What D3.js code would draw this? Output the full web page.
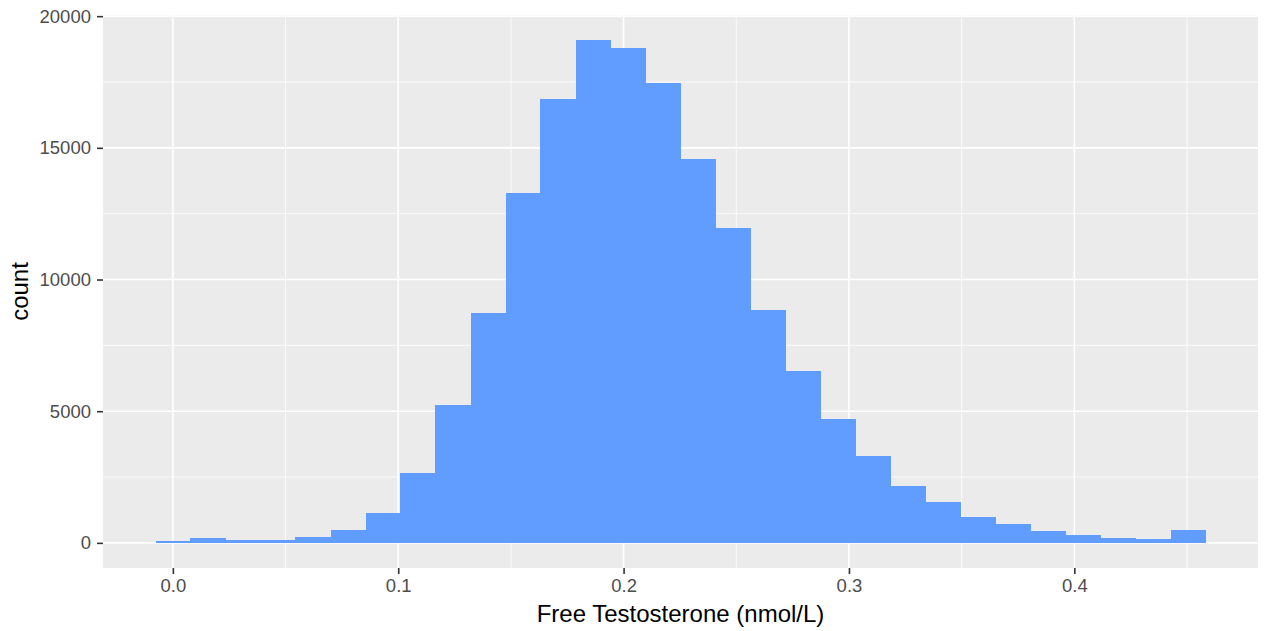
<!DOCTYPE html>
<html>
<head>
<meta charset="utf-8">
<script src="https://cdn.jsdelivr.net/npm/d3@7"></script>
<style>
  body { margin: 0; background: #fff; }
  svg { font-family: "Liberation Sans", Arial, sans-serif; }
</style>
</head>
<body>
<div id="chart"></div>
<script>
// histogram bins (nmol/L) and counts
const binEdges = [-0.0077, 0.0078, 0.0234, 0.0389, 0.0544, 0.0700, 0.0855, 0.1010,
  0.1165, 0.1321, 0.1476, 0.1631, 0.1787, 0.1942, 0.2097, 0.2253, 0.2408, 0.2563,
  0.2718, 0.2874, 0.3029, 0.3184, 0.3340, 0.3495, 0.3650, 0.3806, 0.3961, 0.4116,
  0.4271, 0.4427, 0.4582];
const counts = [60, 190, 100, 125, 215, 470, 1140, 2650, 5250, 8730, 13290, 16850,
  19090, 18800, 17480, 14585, 11940, 8840, 6530, 4720, 3300, 2175, 1555, 975,
  720, 440, 290, 200, 140, 470];
const xTicks = [0, 0.1, 0.2, 0.3, 0.4];
const xMinor = [0.05, 0.15, 0.25, 0.35, 0.45];
const yTicks = [0, 5000, 10000, 15000, 20000];
const yMinor = [2500, 7500, 12500, 17500];

const width = 1265, height = 631;
const margin = {top: 15, right: 7, bottom: 63, left: 103};

const bins = counts.map((c, i) => ({x0: binEdges[i], x1: binEdges[i + 1], count: c}));

const svg = d3.select("#chart").append("svg")
  .attr("width", width)
  .attr("height", height);

// ggplot pads 5% of the data range on each side
const xr = binEdges[binEdges.length - 1] - binEdges[0];
const x = d3.scaleLinear()
  .domain([binEdges[0] - 0.05 * xr, binEdges[binEdges.length - 1] + 0.05 * xr])
  .range([margin.left, width - margin.right]);

const yMax = d3.max(counts);
const y = d3.scaleLinear()
  .domain([-0.05 * yMax, yMax * 1.05])
  .range([height - margin.bottom, margin.top]);

// panel
svg.append("rect")
  .attr("x", margin.left)
  .attr("y", margin.top)
  .attr("width", width - margin.left - margin.right)
  .attr("height", height - margin.top - margin.bottom)
  .attr("fill", "#EBEBEB");

const grid = svg.append("g").attr("stroke", "#fff");
grid.append("g").selectAll("line").data(yMinor).join("line")
  .attr("x1", margin.left).attr("x2", width - margin.right)
  .attr("y1", d => y(d)).attr("y2", d => y(d))
  .attr("stroke-width", 0.8);
grid.append("g").selectAll("line").data(xMinor).join("line")
  .attr("y1", margin.top).attr("y2", height - margin.bottom)
  .attr("x1", d => x(d)).attr("x2", d => x(d))
  .attr("stroke-width", 0.8);
grid.append("g").selectAll("line").data(yTicks).join("line")
  .attr("x1", margin.left).attr("x2", width - margin.right)
  .attr("y1", d => y(d)).attr("y2", d => y(d))
  .attr("stroke-width", 1.6);
grid.append("g").selectAll("line").data(xTicks).join("line")
  .attr("y1", margin.top).attr("y2", height - margin.bottom)
  .attr("x1", d => x(d)).attr("x2", d => x(d))
  .attr("stroke-width", 1.6);

// bars
svg.append("g")
  .attr("fill", "#619CFF")
  .attr("shape-rendering", "crispEdges")
  .selectAll("rect")
  .data(bins)
  .join("rect")
    .attr("x", d => x(d.x0))
    .attr("width", d => x(d.x1) - x(d.x0) + 0.5)
    .attr("y", d => y(d.count))
    .attr("height", d => y(0) - y(d.count));

// axes
const xAxis = g => g
  .attr("transform", `translate(0,${height - margin.bottom})`)
  .call(d3.axisBottom(x).tickValues(xTicks).tickFormat(d3.format(".1f")).tickSize(6).tickPadding(5))
  .call(g => g.select(".domain").remove());

const yAxis = g => g
  .attr("transform", `translate(${margin.left},0)`)
  .call(d3.axisLeft(y).tickValues(yTicks).tickFormat(d => d).tickSize(6).tickPadding(6))
  .call(g => g.select(".domain").remove());

svg.append("g").call(xAxis);
svg.append("g").call(yAxis);

svg.selectAll(".tick line").attr("stroke", "#333").attr("stroke-width", 1.6);
svg.selectAll(".tick text").attr("fill", "#4D4D4D").style("font-size", "18.5px");

svg.append("text")
  .attr("x", (margin.left + width - margin.right) / 2)
  .attr("y", 622)
  .attr("text-anchor", "middle")
  .style("font-size", "24px")
  .attr("fill", "#000")
  .text("Free Testosterone (nmol/L)");

svg.append("text")
  .attr("transform", `translate(28,${(margin.top + height - margin.bottom) / 2}) rotate(-90)`)
  .attr("text-anchor", "middle")
  .style("font-size", "24px")
  .attr("fill", "#000")
  .text("count");
</script>
</body>
</html>
